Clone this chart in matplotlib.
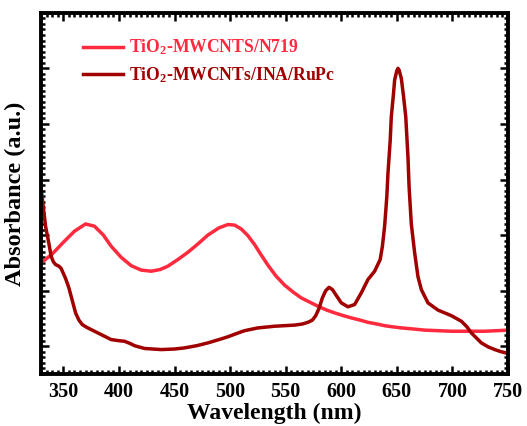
import numpy as np
import matplotlib
matplotlib.use("Agg")
from matplotlib import pyplot as plt

plt.rcParams['font.family'] = 'Liberation Serif'
plt.rcParams['font.weight'] = 'bold'
plt.rcParams['mathtext.fontset'] = 'custom'
plt.rcParams['mathtext.rm'] = 'Liberation Serif:bold'
plt.rcParams['mathtext.default'] = 'rm'

# TiO2-MWCNTS/N719
wl_n719 = [330, 340, 350, 360, 370, 378, 386, 393, 402, 411, 420, 429, 437, 444,
           453, 462, 471, 480, 490, 498, 504, 510, 516, 522, 528, 534, 541, 549,
           557, 564, 572, 579, 587, 594, 602, 609, 617, 624, 632, 639, 646, 654,
           665, 675, 687, 699, 714, 729, 740, 750]
ab_n719 = [0.250, 0.266, 0.287, 0.307, 0.320, 0.316, 0.300, 0.280, 0.260, 0.245,
           0.237, 0.235, 0.238, 0.244, 0.256, 0.269, 0.284, 0.300, 0.313, 0.319,
           0.318, 0.311, 0.299, 0.283, 0.264, 0.246, 0.227, 0.210, 0.197, 0.187,
           0.179, 0.172, 0.165, 0.160, 0.155, 0.151, 0.147, 0.143, 0.140, 0.137,
           0.135, 0.133, 0.131, 0.129, 0.128, 0.127, 0.127, 0.127, 0.128, 0.129]

# TiO2-MWCNTs/INA/RuPc
wl_rupc = [330, 332, 334, 337, 339, 341, 343, 346, 348, 352, 355, 357, 361, 364,
           367, 371, 375, 384, 393, 400, 405, 410, 414, 423, 438, 450, 459, 470,
           480, 490, 498, 506, 513, 525, 540, 558, 565, 570, 574, 577, 580, 583,
           586, 589, 592, 596, 600, 606, 612, 618, 624, 630, 635, 637, 639, 641,
           642, 644, 645, 647, 648, 650, 651, 652, 654, 656, 658, 660, 661, 663,
           666, 669, 672, 678, 687, 699, 708, 713, 717, 722, 726, 732, 738, 744,
           750]
ab_rupc = [0.384, 0.350, 0.316, 0.285, 0.262, 0.252, 0.247, 0.244, 0.240, 0.222,
           0.205, 0.190, 0.160, 0.147, 0.139, 0.134, 0.130, 0.121, 0.112, 0.110,
           0.109, 0.105, 0.101, 0.096, 0.094, 0.095, 0.097, 0.101, 0.106, 0.112,
           0.117, 0.123, 0.128, 0.133, 0.136, 0.138, 0.140, 0.143, 0.147, 0.155,
           0.168, 0.187, 0.200, 0.206, 0.202, 0.190, 0.178, 0.171, 0.175, 0.196,
           0.220, 0.235, 0.256, 0.280, 0.316, 0.370, 0.411, 0.470, 0.513, 0.555,
           0.579, 0.596, 0.600, 0.597, 0.582, 0.550, 0.513, 0.440, 0.387, 0.320,
           0.268, 0.225, 0.202, 0.178, 0.165, 0.155, 0.145, 0.135, 0.124, 0.114,
           0.106, 0.099, 0.094, 0.090, 0.087]

xticks = [350, 400, 450, 500, 550, 600, 650, 700, 750]

fig, ax = plt.subplots(figsize=(5.27, 4.26), dpi=100)
fig.subplots_adjust(left=0.078, right=0.964, top=0.97, bottom=0.122)

c1 = '#ff2a3d'
c2 = '#a00000'
ax.plot(wl_n719, ab_n719, color=c1, lw=2.5, label='TiO$_2$-MWCNTS/N719')
ax.plot(wl_rupc, ab_rupc, color=c2, lw=2.5, label='TiO$_2$-MWCNTs/INA/RuPc')

ax.set_xlim(330, 750)
ax.set_ylim(0.05, 0.70)
ax.set_xticks(xticks)
ax.set_xticks(np.arange(330, 751, 5), minor=True)
ax.set_yticks([0.1, 0.2, 0.3, 0.4, 0.5, 0.6])
ax.set_yticks(np.arange(0.05, 0.701, 0.01), minor=True)
ax.set_yticklabels([])
ax.tick_params(which='both', direction='in', top=True, right=True, width=1.8)
ax.tick_params(which='major', length=6, labelsize=14.5, pad=6)
ax.tick_params(which='minor', length=3)
for s in ax.spines.values():
    s.set_linewidth(2.8)

ax.set_xlabel('Wavelength (nm)', fontsize=17, fontweight='bold', labelpad=0)
ax.set_ylabel('Absorbance (a.u.)', fontsize=17.5, fontweight='bold', labelpad=5)

leg = ax.legend(loc='upper left', bbox_to_anchor=(0.055, 0.975), frameon=False,
                fontsize=12.7, handlelength=2.3, handletextpad=0.3, labelspacing=0.45)
for txt, c in zip(leg.get_texts(), [c1, c2]):
    txt.set_color(c)

plt.savefig('out.png', dpi=100)
